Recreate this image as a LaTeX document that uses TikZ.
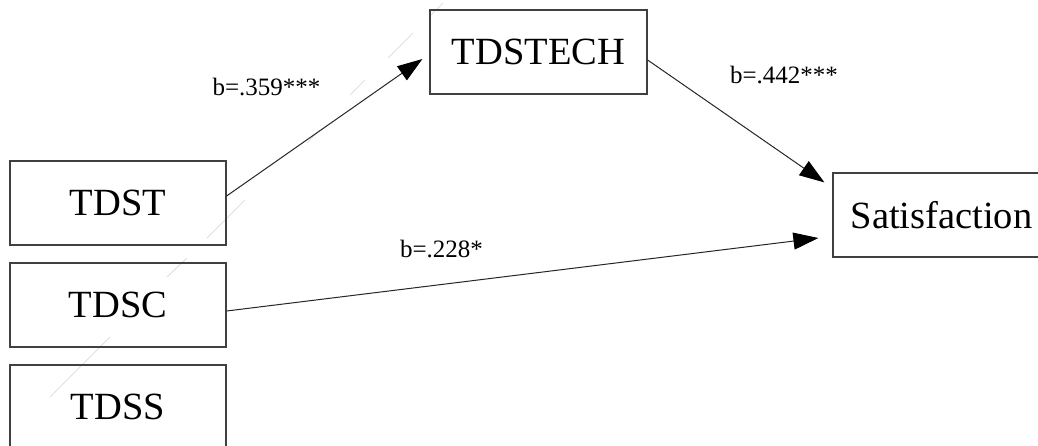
\documentclass[tikz,border=0pt]{standalone}
\usepackage{fontspec}
\setmainfont{Liberation Serif}
\usetikzlibrary{arrows.meta}
\begin{document}
\begin{tikzpicture}[x=1pt,y=-1pt,
  box/.style={draw=black!75, line width=1.2pt, minimum width=216pt, minimum height=84pt,
    inner sep=0pt, font=\fontsize{38.5}{40}\selectfont},
  lab/.style={anchor=base, inner sep=0pt, font=\fontsize{25}{27}\selectfont},
  conn/.style={draw=black!85, line width=1pt, -{Triangle[length=25pt,width=17pt,color=black]}},
  artifact/.style={draw=black!12, line width=1pt}]
\useasboundingbox (0,0) rectangle (1038,445);
\clip (0,0) rectangle (1038,445);
% faint scan artefact
\draw[artifact] (443,3) -- (430,16);
\draw[artifact] (413,33) -- (388,58);
\draw[artifact] (365,80) -- (350,95);
\draw[artifact] (320,130) -- (307,143);
\draw[artifact] (245,200) -- (207,238);
\draw[artifact] (187,258) -- (167,277);
\draw[artifact] (110,337) -- (50,397);
% nodes
\node[box] (tdst) at (118,203) {TDST};
\node[box] (tdsc) at (118,305) {TDSC};
\node[box] (tdss) at (118,407) {TDSS};
\node[box, minimum width=217pt] (tdstech) at (538.5,52) {TDSTECH};
\node[box, minimum width=217pt] (sat) at (941.5,215) {Satisfaction};
% connectors
\draw[conn] ([yshift=7pt]tdst.east) -- ([xshift=-7pt,yshift=-7pt]tdstech.west);
\draw[conn] ([yshift=-8pt]tdstech.east) -- ([xshift=-8pt,yshift=-10pt]sat.north west);
\draw[conn] ([yshift=-6pt]tdsc.east) -- ([xshift=-14pt,yshift=-23pt]sat.west);
% labels
\node[lab] (l1) at (266.5,95.5) {b=.359***};
\node[lab] (l2) at (784,83.5) {b=.442***};
\node[lab] (l3) at (441.5,257) {b=.228*};
\end{tikzpicture}
\end{document}
